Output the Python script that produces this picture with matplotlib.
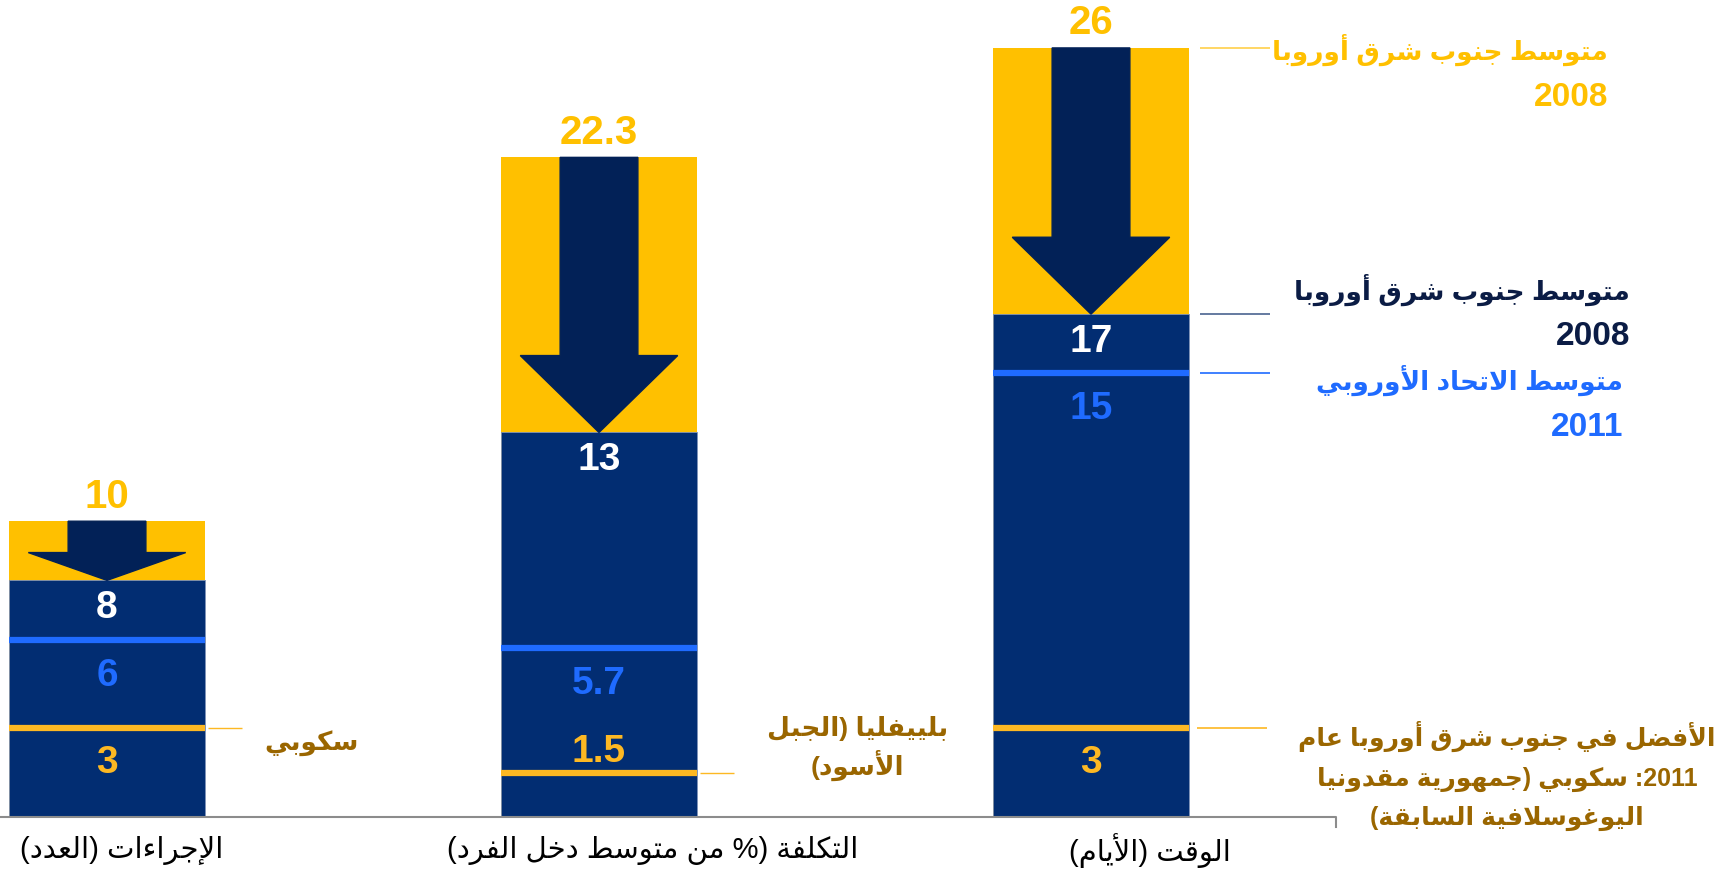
import matplotlib
matplotlib.use('Agg')
import matplotlib.pyplot as plt
from matplotlib.patches import Polygon

# data
categories = ['الإجراءات (العدد)', 'التكلفة (% من متوسط دخل الفرد)', 'الوقت (الأيام)']
see_2008 = [10, 22.3, 26]      # متوسط جنوب شرق أوروبا 2008
see_2011 = [8, 13, 17]         # after reform
eu_2011 = [6, 5.7, 15]         # متوسط الاتحاد الأوروبي 2011
best_2011 = [3, 1.5, 3]        # best performer
best_names = ['سكوبي', 'بلييفليا (الجبل\nالأسود)',
              'الأفضل في جنوب شرق أوروبا عام\n2011: سكوبي (جمهورية مقدونيا\nاليوغوسلافية السابقة)']
legend_names = ['متوسط جنوب شرق أوروبا', 'متوسط جنوب شرق أوروبا', 'متوسط الاتحاد الأوروبي']
legend_years = ['2008', '2008', '2011']

YELLOW = '#FFC000'
NAVY = '#022D72'
ARROW = '#022157'
BLUE = '#1F6BFF'
ORANGE = '#FDB823'
BROWN = '#9A6600'
DARK = '#0B1C45'
FONTS = ['Liberation Sans', 'DejaVu Sans']

# --- tiny arabic shaper (matplotlib has no complex text layout) ---
FORMS = {
    'ء': (0xFE80, 1), 'آ': (0xFE81, 2), 'أ': (0xFE83, 2), 'ؤ': (0xFE85, 2), 'إ': (0xFE87, 2),
    'ئ': (0xFE89, 4), 'ا': (0xFE8D, 2), 'ب': (0xFE8F, 4), 'ة': (0xFE93, 2), 'ت': (0xFE95, 4),
    'ث': (0xFE99, 4), 'ج': (0xFE9D, 4), 'ح': (0xFEA1, 4), 'خ': (0xFEA5, 4), 'د': (0xFEA9, 2),
    'ذ': (0xFEAB, 2), 'ر': (0xFEAD, 2), 'ز': (0xFEAF, 2), 'س': (0xFEB1, 4), 'ش': (0xFEB5, 4),
    'ص': (0xFEB9, 4), 'ض': (0xFEBD, 4), 'ط': (0xFEC1, 4), 'ظ': (0xFEC5, 4), 'ع': (0xFEC9, 4),
    'غ': (0xFECD, 4), 'ف': (0xFED1, 4), 'ق': (0xFED5, 4), 'ك': (0xFED9, 4), 'ل': (0xFEDD, 4),
    'م': (0xFEE1, 4), 'ن': (0xFEE5, 4), 'ه': (0xFEE9, 4), 'و': (0xFEED, 2), 'ى': (0xFEEF, 2),
    'ي': (0xFEF1, 4),
}
LAM_ALEF = {'آ': 0xFEF5, 'أ': 0xFEF7, 'إ': 0xFEF9, 'ا': 0xFEFB}
MIRROR = {'(': ')', ')': '('}


def shape_line(s):
    units = []
    i = 0
    while i < len(s):
        if s[i] == 'ل' and i + 1 < len(s) and s[i + 1] in LAM_ALEF:
            units.append(('LA', s[i + 1]))
            i += 2
        else:
            units.append(s[i])
            i += 1

    def is_ar(u):
        return isinstance(u, tuple) or u in FORMS

    def dual(u):
        return (not isinstance(u, tuple)) and u in FORMS and FORMS[u][1] == 4

    out = []
    for k, u in enumerate(units):
        prev = units[k - 1] if k > 0 else None
        nxt = units[k + 1] if k + 1 < len(units) else None
        jp = prev is not None and dual(prev) and is_ar(u)
        jn = nxt is not None and dual(u) and is_ar(nxt)
        if isinstance(u, tuple):
            out.append(chr(LAM_ALEF[u[1]] + (1 if jp else 0)))
        elif u in FORMS:
            base, n = FORMS[u]
            if n == 1:
                off = 0
            elif n == 2:
                off = 1 if jp else 0
            else:
                off = 3 if (jp and jn) else 2 if jn else 1 if jp else 0
            out.append(chr(base + off))
        else:
            out.append(u)
    # visual order: reverse, keep number runs left-to-right
    tokens = []
    for c in out:
        if (c.isdigit() or c == '.') and tokens and tokens[-1][0].isdigit():
            tokens[-1] += c
        else:
            tokens.append(c)
    tokens = [MIRROR.get(t, t) for t in tokens[::-1]]
    return ''.join(tokens)


def ar(s):
    return '\n'.join(shape_line(line) for line in s.split('\n'))


fig = plt.figure(figsize=(17.24, 8.73), dpi=100)
ax = fig.add_axes([0, 0, 1, 1])
ax.set_xlim(-0.2175, 3.2866)
ax.set_ylim(-1.893, 27.62)
ax.axis('off')

x = [0, 1, 2]
w = 0.4
ax.bar(x, see_2008, width=w, color=YELLOW, zorder=1)
ax.bar(x, see_2011, width=w, color=NAVY, edgecolor='#7F93B8', linewidth=0.6, zorder=2)

for i in x:
    top, low = see_2008[i], see_2011[i]
    # block arrow from the 2008 level down to the 2011 level
    head = min(2.6, 0.47 * (top - low))
    sw, hw = 0.079, 0.16
    pts = [(i - sw, top), (i + sw, top), (i + sw, low + head), (i + hw, low + head),
           (i, low), (i - hw, low + head), (i - sw, low + head)]
    ax.add_patch(Polygon(pts, closed=True, color=ARROW, zorder=3))

    ax.hlines(eu_2011[i], i - w / 2, i + w / 2, color=BLUE, lw=4.5, zorder=4)
    ax.hlines(best_2011[i], i - w / 2, i + w / 2, color=ORANGE, lw=4.5, zorder=4)

    ax.annotate(f'{top:g}', (i, top), xytext=(0, 4), textcoords='offset points',
                ha='center', va='bottom', fontsize=29, fontweight='bold',
                color=YELLOW, family=FONTS)
    ax.annotate(f'{low:g}', (i, low), xytext=(0, -7), textcoords='offset points',
                ha='center', va='top', fontsize=28, fontweight='bold',
                color='white', family=FONTS, zorder=5)
    ax.annotate(f'{eu_2011[i]:g}', (i, eu_2011[i]), xytext=(0, -13), textcoords='offset points',
                ha='center', va='top', fontsize=28, fontweight='bold',
                color=BLUE, family=FONTS, zorder=5)
    if best_2011[i] > 2:
        ax.annotate(f'{best_2011[i]:g}', (i, best_2011[i]), xytext=(0, -12),
                    textcoords='offset points', ha='center', va='top', fontsize=28,
                    fontweight='bold', color=ORANGE, family=FONTS, zorder=5)
    else:
        ax.annotate(f'{best_2011[i]:g}', (i, best_2011[i]), xytext=(0, 2),
                    textcoords='offset points', ha='center', va='bottom', fontsize=28,
                    fontweight='bold', color=ORANGE, family=FONTS, zorder=5)

# best performer call-outs for the first two bars
ax.hlines(best_2011[0], 0.206, 0.275, color=ORANGE, lw=1)
ax.text(0.415, best_2011[0] - 0.5, ar(best_names[0]), ha='center', va='center',
        fontsize=19, fontweight='bold', color=BROWN, family=FONTS)
ax.hlines(best_2011[1], 1.206, 1.275, color=ORANGE, lw=1)
ax.text(1.526, best_2011[1] + 0.83, ar(best_names[1]), ha='center', va='center',
        fontsize=19, fontweight='bold', color=BROWN, family=FONTS, linespacing=1.35)

# legend column for the last bar
lx0, lx1 = 2.222, 2.364
levels = [see_2008[2], see_2011[2], eu_2011[2]]
leader_colors = ['#FFD04A', '#4A6390', BLUE]
text_colors = [YELLOW, DARK, BLUE]
name_dy = [-0.07, 0.82, -0.23]
year_dy = [-1.66, -0.77, -1.82]
right_x = [3.051, 3.096, 3.081]
for lev, lc, tc, ndy, ydy, rx, name, year in zip(levels, leader_colors, text_colors,
                                                  name_dy, year_dy, right_x,
                                                  legend_names, legend_years):
    ax.hlines(lev, lx0, lx1, color=lc, lw=1.2)
    ax.text(rx, lev + ndy, ar(name), ha='right', va='center', fontsize=19,
            fontweight='bold', color=tc, family=FONTS)
    ax.text(rx, lev + ydy, year, ha='right', va='center', fontsize=24,
            fontweight='bold', color=tc, family=FONTS)

ax.hlines(best_2011[2], lx0 - 0.006, lx1 - 0.006, color=ORANGE, lw=1.2)
ax.text(2.846, best_2011[2] - 1.62, ar(best_names[2]), ha='center', va='center',
        fontsize=18, fontweight='bold', color=BROWN, family=FONTS, linespacing=1.75)

# baseline and category labels
ax.plot([-0.2175, 2.498, 2.498], [0, 0, -0.33], color='#8C8C8C', lw=1.5, zorder=6)
label_dx = [0.03, 0.11, 0.12]
for i, c in enumerate(categories):
    ax.text(i + label_dx[i], -1.12, ar(c), ha='center', va='center',
            fontsize=21, color='black', family=FONTS)

fig.savefig('out.png', dpi=100)
